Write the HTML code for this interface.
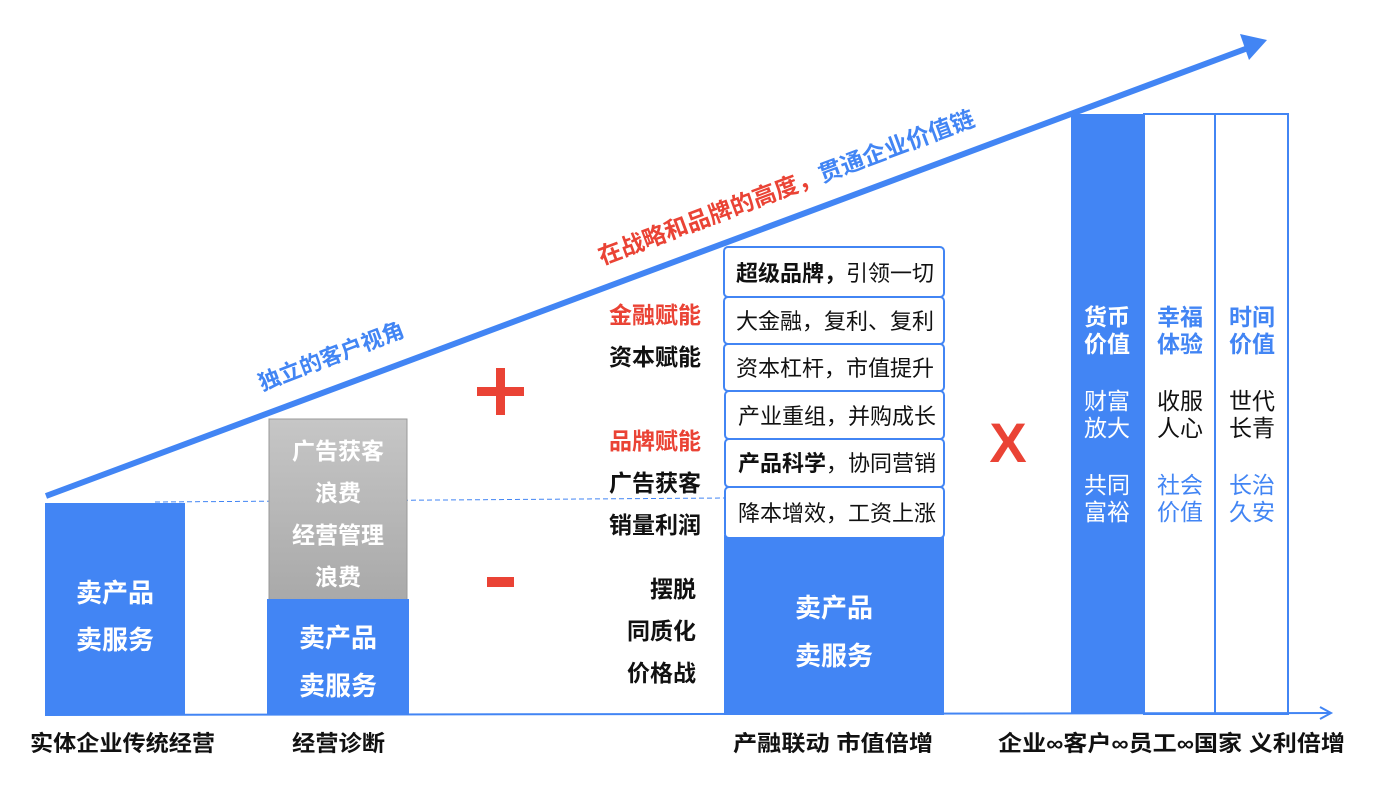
<!DOCTYPE html>
<html><head><meta charset="utf-8"><style>
body{margin:0;background:#fff}
svg text{font-family:"Liberation Sans","Noto Sans CJK SC",sans-serif}
</style></head><body>
<svg width="1376" height="781" viewBox="0 0 1376 781" xmlns="http://www.w3.org/2000/svg">
<defs><linearGradient id="g" x1="0" y1="0" x2="0" y2="1"><stop offset="0" stop-color="#c6c6c6"/><stop offset="1" stop-color="#a9a9a9"/></linearGradient></defs>
<line x1="45" y1="715" x2="1330" y2="713" stroke="#4285f4" stroke-width="2"/>
<polyline points="1320,707 1331,713 1320,719" fill="none" stroke="#4285f4" stroke-width="2"/>
<line x1="46" y1="496" x2="1248" y2="48" stroke="#4285f4" stroke-width="6"/>
<polygon points="1267,40 1240,34 1249,60" fill="#4285f4"/>
<line x1="155" y1="502" x2="724" y2="498" stroke="#4285f4" stroke-width="1" stroke-dasharray="5,3"/>
<rect x="45" y="503" width="140" height="212" fill="#4285f4"/>
<text x="115" y="602" font-size="26" font-weight="bold" fill="#fff" text-anchor="middle">卖产品</text>
<text x="115" y="649" font-size="26" font-weight="bold" fill="#fff" text-anchor="middle">卖服务</text>
<rect x="269" y="419" width="138" height="181" fill="url(#g)" stroke="#999" stroke-width="1"/>
<g font-size="23" font-weight="bold" fill="#fff" text-anchor="middle">
<text x="338" y="459">广告获客</text><text x="338" y="501">浪费</text>
<text x="338" y="543">经营管理</text><text x="338" y="585">浪费</text></g>
<rect x="267" y="599" width="142" height="116" fill="#4285f4"/>
<text x="338" y="647" font-size="26" font-weight="bold" fill="#fff" text-anchor="middle">卖产品</text>
<text x="338" y="695" font-size="26" font-weight="bold" fill="#fff" text-anchor="middle">卖服务</text>
<rect x="477" y="387" width="47" height="9" fill="#ea4335"/>
<rect x="496" y="368" width="9" height="47" fill="#ea4335"/>
<rect x="487" y="577" width="27" height="10" fill="#ea4335"/>
<g font-size="23" font-weight="bold" text-anchor="end">
<text x="701" y="323" fill="#ea4335">金融赋能</text>
<text x="701" y="365" fill="#111">资本赋能</text>
<text x="701" y="449" fill="#ea4335">品牌赋能</text>
<text x="701" y="491" fill="#111">广告获客</text>
<text x="701" y="533" fill="#111">销量利润</text>
<text x="696" y="597" fill="#111">摆脱</text>
<text x="696" y="639" fill="#111">同质化</text>
<text x="696" y="681" fill="#111">价格战</text></g>
<rect x="724" y="535" width="220" height="180" fill="#4285f4"/>
<text x="834" y="617" font-size="26" font-weight="bold" fill="#fff" text-anchor="middle">卖产品</text>
<text x="834" y="665" font-size="26" font-weight="bold" fill="#fff" text-anchor="middle">卖服务</text>
<g fill="#fff" stroke="#4285f4" stroke-width="2">
<rect x="724" y="247" width="220" height="50" rx="4"/>
<rect x="724" y="297" width="220" height="47" rx="4"/>
<rect x="724" y="344" width="220" height="47" rx="4"/>
<rect x="725" y="391" width="219" height="48" rx="4"/>
<rect x="725" y="439" width="219" height="48" rx="4"/>
<rect x="725" y="487" width="219" height="51" rx="4"/>
</g>
<g font-size="22" fill="#111">
<text x="736" y="281"><tspan font-weight="bold">超级品牌，</tspan>引领一切</text>
<text x="736" y="329">大金融，复利、复利</text>
<text x="736" y="376">资本杠杆，市值提升</text>
<text x="738" y="424">产业重组，并购成长</text>
<text x="738" y="471"><tspan font-weight="bold">产品科学</tspan>，协同营销</text>
<text x="738" y="521">降本增效，工资上涨</text></g>
<text x="1008" y="462" font-size="56" font-weight="bold" fill="#ea4335" text-anchor="middle">X</text>
<rect x="1071" y="114" width="72" height="600" fill="#4285f4"/>
<rect x="1144" y="114" width="71" height="600" fill="none" stroke="#4285f4" stroke-width="2"/>
<rect x="1215" y="114" width="73" height="600" fill="none" stroke="#4285f4" stroke-width="2"/>
<g font-size="23" text-anchor="middle">
<text x="1107" y="325" font-weight="bold" fill="#fff">货币</text><text x="1107" y="352" font-weight="bold" fill="#fff">价值</text>
<text x="1107" y="409" fill="#fff">财富</text><text x="1107" y="436" fill="#fff">放大</text>
<text x="1107" y="493" fill="#fff">共同</text><text x="1107" y="520" fill="#fff">富裕</text>
<text x="1180" y="325" font-weight="bold" fill="#4285f4">幸福</text><text x="1180" y="352" font-weight="bold" fill="#4285f4">体验</text>
<text x="1180" y="409" fill="#111">收服</text><text x="1180" y="436" fill="#111">人心</text>
<text x="1180" y="493" fill="#4285f4">社会</text><text x="1180" y="520" fill="#4285f4">价值</text>
<text x="1252" y="325" font-weight="bold" fill="#4285f4">时间</text><text x="1252" y="352" font-weight="bold" fill="#4285f4">价值</text>
<text x="1252" y="409" fill="#111">世代</text><text x="1252" y="436" fill="#111">长青</text>
<text x="1252" y="493" fill="#4285f4">长治</text><text x="1252" y="520" fill="#4285f4">久安</text></g>
<g font-size="22" font-weight="bold" fill="#111">
<text x="30" y="751" textLength="185" lengthAdjust="spacingAndGlyphs">实体企业传统经营</text>
<text x="292" y="751" textLength="93" lengthAdjust="spacingAndGlyphs">经营诊断</text>
<text x="733" y="751" textLength="200" lengthAdjust="spacingAndGlyphs">产融联动  市值倍增</text>
<text x="998" y="751" textLength="347" lengthAdjust="spacingAndGlyphs">企业∞客户∞员工∞国家 义利倍增</text></g>
<text transform="translate(262,391) rotate(-21)" font-size="22" font-weight="bold" fill="#4285f4">独立的客户视角</text>
<text transform="translate(602,265) rotate(-20.5)" font-size="23.5" font-weight="bold" fill="#ea4335">在战略和品牌的高度，<tspan fill="#4285f4">贯通企业价值链</tspan></text>
</svg>
</body></html>
